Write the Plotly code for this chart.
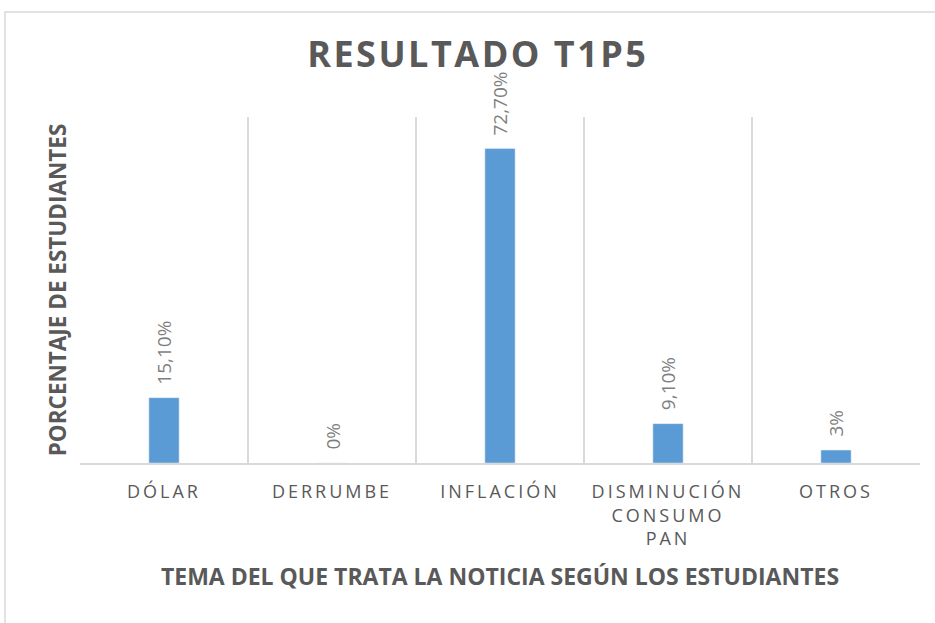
import plotly.graph_objects as go

categories = ["DÓLAR", "DERRUMBE", "INFLACIÓN", "DISMINUCIÓN<br>CONSUMO<br>PAN", "OTROS"]
values = [15.1, 0, 72.7, 9.1, 3]
value_labels = ["15,10%", "0%", "72,70%", "9,10%", "3%"]

fig = go.Figure(
    go.Bar(
        x=categories,
        y=values,
        width=0.18,
        marker=dict(color="#5B9BD5"),
        hoverinfo="skip",
    )
)

# data labels, rotated, a little above each bar
for cat, val, lab in zip(categories, values, value_labels):
    fig.add_annotation(
        x=cat, y=val, text=lab, showarrow=False, textangle=-90,
        yanchor="bottom", xanchor="center", yshift=11,
        font=dict(family="Open Sans", size=19, color="#7F7F7F"),
    )

# chart border
fig.add_shape(
    type="rect", xref="paper", yref="paper",
    x0=-0.0893, x1=1.2, y0=-0.6, y1=1.3035,
    line=dict(color="#D9D9D9", width=1.5), layer="below",
)

fig.update_layout(
    width=935,
    height=623,
    margin=dict(l=80, r=15, t=117, b=160),
    paper_bgcolor="white",
    plot_bgcolor="white",
    showlegend=False,
    title=dict(
        text="<b>RESULTADO T1P5</b>",
        x=0.511, xanchor="center", y=0.913, yanchor="middle",
        font=dict(family="Open Sans", size=36, color="#595959"),
    ),
    xaxis=dict(
        tickson="boundaries",
        showgrid=True, gridcolor="#D9D9D9", gridwidth=1.5,
        showline=True, linecolor="#D9D9D9", linewidth=1.5,
        ticks="", ticklabelstandoff=12,
        tickfont=dict(family="Open Sans", size=18, color="#595959"),
        title=dict(
            text="<b>TEMA DEL QUE TRATA LA NOTICIA SEGÚN LOS ESTUDIANTES</b>",
            font=dict(family="Open Sans", size=23, color="#595959"),
            standoff=20,
        ),
    ),
    yaxis=dict(
        range=[0, 80], showgrid=False, zeroline=False, showticklabels=False,
        ticks="",
        title=dict(
            text="<b>PORCENTAJE DE ESTUDIANTES</b>",
            font=dict(family="Open Sans", size=22.5, color="#595959"),
            standoff=6,
        ),
    ),
)

spacing_js = """
document.body.style.margin = '0';
document.querySelectorAll('.xtick text').forEach(function (t) { t.style.letterSpacing = '3px'; });
document.querySelectorAll('.gtitle').forEach(function (t) { t.style.letterSpacing = '2.5px'; });
"""

fig.write_html("out.html", post_script=spacing_js, config={"displayModeBar": False})
